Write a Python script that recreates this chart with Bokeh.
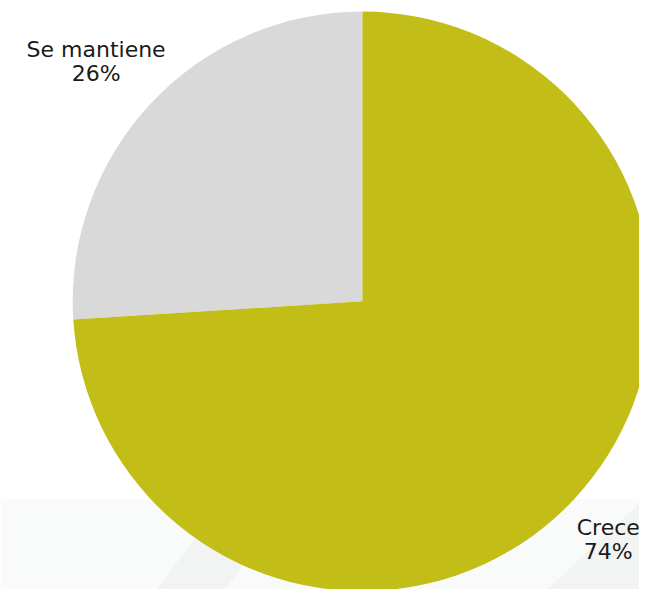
import numpy as np
from bokeh.plotting import figure
from bokeh.models import Range1d, ColumnDataSource
from bokeh.core.properties import value
from bokeh.embed import file_html
from bokeh.resources import INLINE

# Data
categories = ["Se mantiene", "Crece"]
shares = [26, 74]
pct_labels = ["26%", "74%"]
colors = ["#d9d9d9", "#c3be17"]

# Angles (anticlockwise from 12 o'clock)
vals = np.array(shares, dtype=float)
frac = vals / vals.sum()
ends = np.pi / 2 + 2 * np.pi * np.cumsum(frac)
starts = ends - 2 * np.pi * frac

W, H = 655, 605
p = figure(width=639, height=589, output_backend="svg", toolbar_location=None,
           x_range=Range1d(0, W), y_range=Range1d(0, H), min_border=0)
p.axis.visible = False
p.grid.visible = False
p.outline_line_color = None
p.background_fill_color = "white"
p.border_fill_color = "white"

# Light background band at bottom with faint diagonal stripes
p.quad(left=0, right=W, bottom=0, top=93, fill_color="#f9fafa", line_color=None)
p.patches(xs=[[160, 230, 300, 230], [560, 655, 655]],
          ys=[[0, 0, 93, 93], [0, 0, 88]],
          fill_color="#f2f3f3", line_color=None)

src = ColumnDataSource(dict(cat=categories, start=starts, end=ends, color=colors))
p.wedge(x=371, y=296, radius=297, start_angle="start", end_angle="end",
        fill_color="color", line_color=None, source=src)

font = value("DejaVu Sans")
label_x = [98, 623]
name_y = [555, 64]
pct_y = [530, 39]
p.text(x=label_x, y=name_y, text=categories, text_font=font, text_font_size="22px",
       text_align="center", text_baseline="alphabetic", text_color="#1a1a1a")
p.text(x=label_x, y=pct_y, text=pct_labels, text_font=font, text_font_size="22px",
       text_align="center", text_baseline="alphabetic", text_color="#1a1a1a")

open("out.html", "w").write(file_html(p, INLINE))
